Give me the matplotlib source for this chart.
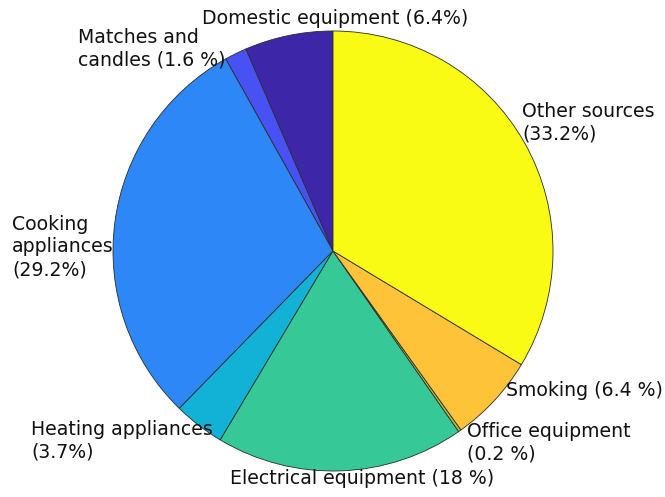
import matplotlib.pyplot as plt

# slices, counter-clockwise from 12 o'clock (MATLAB pie order)
labels = ['Domestic equipment (6.4%)', 'Matches and\ncandles (1.6 %)',
          'Cooking\nappliances\n(29.2%)', 'Heating appliances\n(3.7%)',
          'Electrical equipment (18 %)', 'Office equipment\n(0.2 %)',
          'Smoking (6.4 %)', 'Other sources\n(33.2%)']
values = [6.4, 1.6, 29.2, 3.7, 18, 0.2, 6.4, 33.2]

# parula(8)
colors = ['#3E26A8', '#4852F4', '#2D87F7', '#12B1D6',
          '#37C897', '#ABC739', '#FEC338', '#F9FB15']

# label anchors in pixels (left/centre x, centre y) and alignment
label_px = [(335, 19, 'center'), (78, 49, 'left'), (12, 247, 'left'),
            (31, 441, 'left'), (230, 479, 'left'), (467, 443, 'left'),
            (506, 390, 'left'), (522, 123, 'left')]

W, H = 665, 497
cx, cy, r = 333, 251, 220

fig = plt.figure(figsize=(W / 100, H / 100), dpi=100)
ax = fig.add_axes([0, 0, 1, 1])
ax.pie(values, colors=colors, startangle=90, counterclock=True,
       radius=1, wedgeprops=dict(edgecolor='#2b2b2b', linewidth=0.6))
ax.set_xlim(-cx / r, (W - cx) / r)
ax.set_ylim(-(H - cy) / r, cy / r)
ax.set_aspect('equal')
ax.axis('off')

for text, (px, py, ha) in zip(labels, label_px):
    ax.text((px - cx) / r, (cy - py) / r, text, ha=ha, va='center',
            fontsize=13.6, color='#111111', linespacing=1.24,
            family=['DejaVu Sans'])

fig.savefig('out.png', dpi=100)
